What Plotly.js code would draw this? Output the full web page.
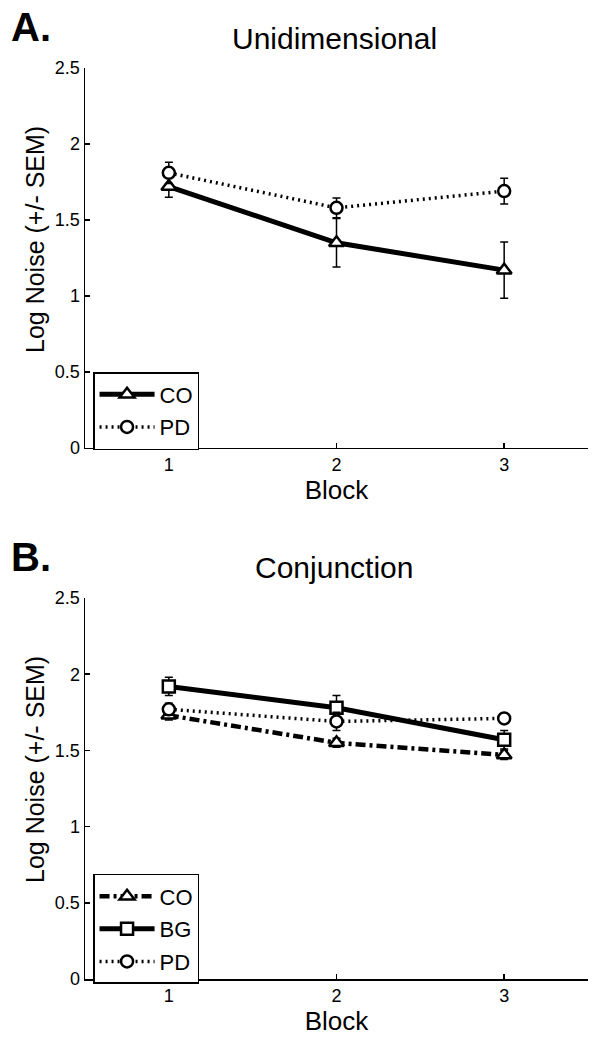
<!DOCTYPE html>
<html>
<head>
<meta charset="utf-8">
<script src="https://cdn.plot.ly/plotly-3.0.1.min.js"></script>
<style>html,body{margin:0;padding:0;background:#fff;}#chart{width:610px;height:1050px;}</style>
</head>
<body>
<div id="chart"></div>
<script>
// ---- Data ----
var blocks = [1, 2, 3];
var blockTickLabels = ["1", "2", "3"];

// Panel A: Unidimensional
var uniCO = [1.72, 1.35, 1.17];
var uniCOsem = [0.07, 0.16, 0.185];
var uniPD = [1.81, 1.58, 1.69];
var uniPDsem = [0.07, 0.065, 0.085];

// Panel B: Conjunction
var conCO = [1.73, 1.55, 1.47];
var conCOsem = [0.03, 0.03, 0.03];
var conBG = [1.92, 1.78, 1.57];
var conBGsem = [0.06, 0.08, 0.06];
var conPD = [1.77, 1.69, 1.71];
var conPDsem = [0.04, 0.06, 0.03];

var FONT = "Liberation Sans, Arial, Helvetica, sans-serif";

function err(arr) {
  return {type: "data", array: arr, visible: true, color: "#000", thickness: 1.5, width: 4};
}
function mk(sym, size) {
  return {symbol: sym, size: size, color: "#fff", line: {color: "#000", width: 2.5}};
}

var traces = [
  {x: blocks, y: uniCO, name: "CO", type: "scatter", mode: "lines+markers",
   line: {color: "#000", width: 5}, marker: mk("triangle-up", 13), error_y: err(uniCOsem),
   xaxis: "x", yaxis: "y", legend: "legend", legendgroup: "a1"},
  {x: blocks, y: uniPD, name: "PD", type: "scatter", mode: "lines+markers",
   line: {color: "#000", width: 3.5, dash: "2px,4px"}, marker: mk("circle", 12), error_y: err(uniPDsem),
   xaxis: "x", yaxis: "y", legend: "legend", legendgroup: "a2"},
  {x: blocks, y: conCO, name: "CO", type: "scatter", mode: "lines+markers",
   line: {color: "#000", width: 4.5, dash: "10px,4px,3px,4px"}, marker: mk("triangle-up", 13), error_y: err(conCOsem),
   xaxis: "x2", yaxis: "y2", legend: "legend2", legendgroup: "b1"},
  {x: blocks, y: conBG, name: "BG", type: "scatter", mode: "lines+markers",
   line: {color: "#000", width: 5}, marker: mk("square", 12), error_y: err(conBGsem),
   xaxis: "x2", yaxis: "y2", legend: "legend2", legendgroup: "b2"},
  {x: blocks, y: conPD, name: "PD", type: "scatter", mode: "lines+markers",
   line: {color: "#000", width: 3.5, dash: "2px,4px"}, marker: mk("circle", 12), error_y: err(conPDsem),
   xaxis: "x2", yaxis: "y2", legend: "legend2", legendgroup: "b3"}
];

function xax(anchor) {
  return {
    anchor: anchor, domain: [0, 1], range: [0.5, 3.5],
    tickvals: blocks, ticktext: blockTickLabels,
    showline: true, linecolor: "#000", linewidth: 1.5, mirror: false,
    ticks: "inside", ticklen: 5, tickwidth: 1.5, tickcolor: "#000",
    showgrid: false, zeroline: false,
    tickfont: {family: FONT, size: 18, color: "#000"},
    title: {text: "Block", font: {family: FONT, size: 26, color: "#000"}, standoff: 6}
  };
}
function yax(anchor, dom) {
  return {
    anchor: anchor, domain: dom, range: [0, 2.5],
    tickvals: [0, 0.5, 1, 1.5, 2, 2.5], ticktext: ["0", "0.5", "1", "1.5", "2", "2.5"],
    showline: true, linecolor: "#000", linewidth: 1.5,
    ticks: "inside", ticklen: 5, tickwidth: 1.5, tickcolor: "#000",
    showgrid: false, zeroline: false,
    tickfont: {family: FONT, size: 18, color: "#000"}
  };
}

var legendBase = {
  xref: "paper", yref: "paper", xanchor: "left", yanchor: "top",
  bgcolor: "#fff", bordercolor: "#000", borderwidth: 1.5,
  font: {family: FONT, size: 22, color: "#000"},
  itemwidth: 55, traceorder: "grouped", tracegroupgap: 1,
  itemclick: false, itemdoubleclick: false
};

var layout = {
  width: 610, height: 1050,
  margin: {l: 85, r: 22, t: 68, b: 71},
  paper_bgcolor: "#fff", plot_bgcolor: "#fff",
  font: {family: FONT, color: "#000"},
  xaxis: xax("y"),
  yaxis: yax("x", [0.5829, 1]),
  xaxis2: xax("y2"),
  yaxis2: yax("x2", [0, 0.4182]),
  legend: Object.assign({}, legendBase, {x: 0.016, y: 0.6663}),
  legend2: Object.assign({}, legendBase, {x: 0.016, y: 0.1153}),
  annotations: [
    {text: "<b>A.</b>", xref: "paper", yref: "paper", x: -0.151, y: 1.0445, xanchor: "left", yanchor: "middle",
     showarrow: false, font: {family: FONT, size: 40, color: "#000"}},
    {text: "<b>B.</b>", xref: "paper", yref: "paper", x: -0.151, y: 0.4627, xanchor: "left", yanchor: "middle",
     showarrow: false, font: {family: FONT, size: 40, color: "#000"}},
    {text: "Unidimensional", xref: "paper", yref: "paper", x: 0.496, y: 1.0329, xanchor: "center", yanchor: "middle",
     showarrow: false, font: {family: FONT, size: 30, color: "#000"}},
    {text: "Conjunction", xref: "paper", yref: "paper", x: 0.496, y: 0.4512, xanchor: "center", yanchor: "middle",
     showarrow: false, font: {family: FONT, size: 30, color: "#000"}},
    {text: "Log Noise (+/- SEM)", xref: "paper", yref: "paper", x: -0.0994, y: 0.8112, xanchor: "center", yanchor: "middle",
     textangle: -90, showarrow: false, font: {family: FONT, size: 25, color: "#000"}},
    {text: "Log Noise (+/- SEM)", xref: "paper", yref: "paper", x: -0.0994, y: 0.2294, xanchor: "center", yanchor: "middle",
     textangle: -90, showarrow: false, font: {family: FONT, size: 25, color: "#000"}}
  ],
  showlegend: true
};

Plotly.newPlot("chart", traces, layout, {staticPlot: true, displayModeBar: false});
</script>
</body>
</html>
